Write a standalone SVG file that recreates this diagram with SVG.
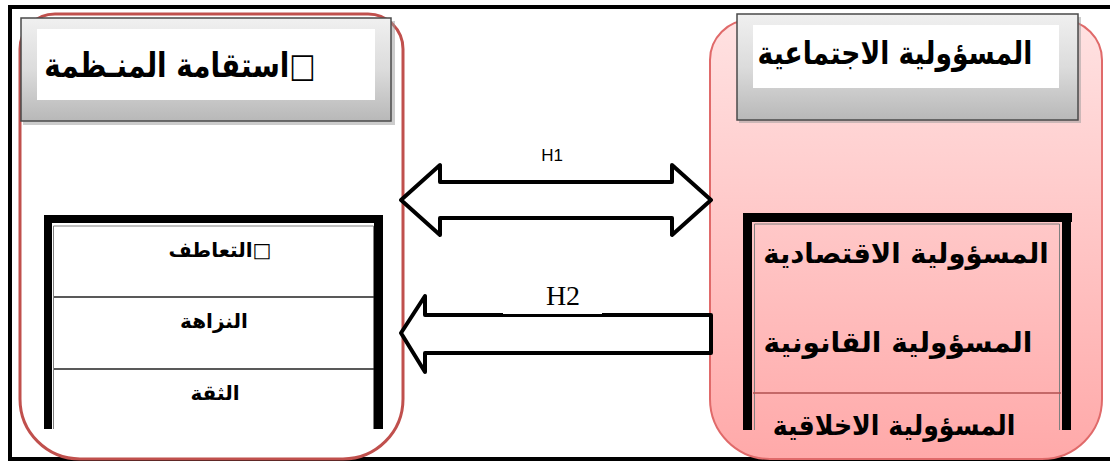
<svg xmlns="http://www.w3.org/2000/svg" width="1110" height="463" viewBox="0 0 1110 463">
  <defs>
    <linearGradient id="grayHead" x1="0" y1="0" x2="0" y2="1">
      <stop offset="0" stop-color="#f0f0f0"/>
      <stop offset="0.5" stop-color="#dcdcdc"/>
      <stop offset="1" stop-color="#b8b8b8"/>
    </linearGradient>
    <linearGradient id="pinkFill" x1="0" y1="0" x2="0" y2="1">
      <stop offset="0" stop-color="#ffe2e2"/>
      <stop offset="1" stop-color="#ffa9a9"/>
    </linearGradient>
  </defs>
  <style>
    .ar { font-family: "DejaVu Sans", sans-serif; font-weight: bold; fill: #000; direction: rtl; text-anchor: middle; }
    .head { stroke: #4a4a4a; stroke-width: 1.5; fill: url(#grayHead); }
    .shadow { fill: #999; opacity: 0.5; }
    .inner { fill: #fff; }
    .bar { fill: #000; }
    .thin { stroke: #808080; stroke-width: 1; fill: none; }
    .div { stroke: #222; stroke-width: 1.5; }
    .arrow { fill: #fff; stroke: #000; stroke-width: 4; stroke-linejoin: round; }
  </style>

  <rect width="1110" height="463" fill="#fff"/>

  <!-- outer frame -->
  <g id="frame">
    <line x1="10" y1="7" x2="1110" y2="7" stroke="#000" stroke-width="4"/>
    <line x1="10" y1="5" x2="10" y2="461" stroke="#000" stroke-width="4"/>
    <line x1="8" y1="459" x2="1110" y2="459" stroke="#000" stroke-width="4"/>
  </g>

  <!-- Left node: استقامة المنظمة -->
  <g id="left-node">
    <path d="M 55 14 H 368 A 35 35 0 0 1 403 49 V 399 A 60 60 0 0 1 343 459 H 80 A 60 60 0 0 1 20 399 V 49 A 35 35 0 0 1 55 14 Z" fill="#fff" stroke="#c0504d" stroke-width="3"/>
    <rect class="shadow" x="23" y="21" width="372" height="104"/>
    <rect class="head" x="21" y="18" width="370" height="103"/>
    <rect class="inner" x="37" y="29" width="338" height="71"/>
    <text class="ar" x="0" y="0" font-size="34" transform="translate(180 77) scale(0.82 1)">□استقامة المنـظمة</text>

    <g id="left-list">
      <rect class="bar" x="44" y="215" width="339" height="8"/>
      <rect class="bar" x="44" y="215" width="8" height="214"/>
      <rect class="bar" x="374" y="215" width="9" height="214"/>
      <polyline class="thin" points="53.5,429 53.5,226 373.5,226 373.5,429"/>
      <line class="div" x1="54" y1="297" x2="374" y2="297"/>
      <line class="div" x1="54" y1="369" x2="374" y2="369"/>
      <text class="ar" x="220" y="257" font-size="20">□التعاطف</text>
      <text class="ar" x="214" y="328" font-size="20">النزاهة</text>
      <text class="ar" x="215" y="400" font-size="20">الثقة</text>
    </g>
  </g>

  <!-- Right node: المسؤولية الاجتماعية -->
  <g id="right-node">
    <path d="M 750 20 H 1062 A 40 40 0 0 1 1102 60 V 399 A 60 60 0 0 1 1042 459 H 770 A 60 60 0 0 1 710 399 V 60 A 40 40 0 0 1 750 20 Z" fill="url(#pinkFill)" stroke="#e06a6a" stroke-width="2"/>
    <rect class="shadow" x="739" y="17" width="342" height="106"/>
    <rect class="head" x="737" y="14" width="341" height="106"/>
    <rect class="inner" x="753" y="25" width="306" height="63"/>
    <text class="ar" x="0" y="0" font-size="32" transform="translate(895 64) scale(0.83 1)">المسؤولية الاجتماعية</text>

    <g id="right-list">
      <rect class="bar" x="743" y="213" width="329" height="9"/>
      <rect class="bar" x="743" y="213" width="9" height="217"/>
      <rect class="bar" x="1062" y="213" width="9" height="217"/>
      <polyline class="thin" points="754.5,430 754.5,224 1059.5,224 1059.5,430"/>
      <line x1="753" y1="393" x2="1061" y2="393" stroke="#b05050" stroke-width="1.5"/>
      <text class="ar" x="0" y="0" font-size="28" transform="translate(906 263) scale(0.98 1)">المسؤولية  الاقتصادية</text>
      <text class="ar" x="0" y="0" font-size="28" transform="translate(898 352)">المسؤولية القانونية</text>
      <text class="ar" x="0" y="0" font-size="28" transform="translate(894 435) scale(0.9 1)">المسؤولية الاخلاقية</text>
    </g>
  </g>

  <!-- connectors -->
  <g id="connectors">
    <path class="arrow" d="M 401 200 L 440 165 L 440 182 L 672 182 L 672 165 L 711 200 L 672 235 L 672 218 L 440 218 L 440 235 Z"/>
    <text x="552" y="161" font-family="Liberation Sans, sans-serif" font-size="17" text-anchor="middle">H1</text>

    <path class="arrow" d="M 401 333 L 425 296 L 425 315 L 711 315 L 711 353 L 425 353 L 425 372 Z"/>
    <rect x="503" y="282" width="99" height="32" fill="#fff"/>
    <text x="563" y="305" font-family="Liberation Serif, serif" font-size="28" text-anchor="middle">H2</text>
  </g>
</svg>
